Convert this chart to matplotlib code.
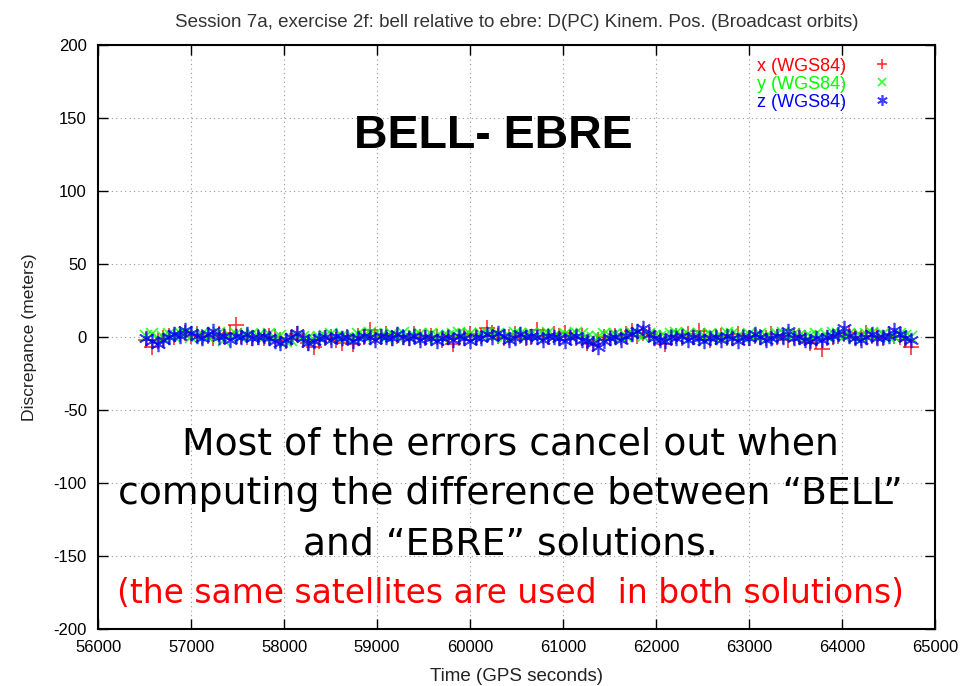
import numpy as np
import matplotlib
matplotlib.use("Agg")
import matplotlib.pyplot as plt

# epochs every 60 s over the session
t = np.arange(56520, 64790, 60)

x_wgs = [-2, -7, -3, -1, 1, 0, 2, 3, 1, 2,
         0, 1, -1, 2, 1, 3, 8, 1, 0, -1,
         0, -1, 1, 0, -2, -3, -1, 2, -2, -4,
         -7, -3, -1, 0, -2, -4, 0, -5, 1, 0,
         5, 1, 0, 2, -1, 1, 0, -1, 2, 0,
         -1, 1, 0, -2, 0, -5, -1, 1, 2, 0,
         1, 6, 3, 1, -1, 0, 2, 1, -1, 0,
         5, 1, 0, 2, 1, 3, 0, -1, 1, -4,
         -5, -2, 0, -1, 1, 0, 2, 4, 1, 3,
         2, 0, -1, -5, 0, 1, -1, 2, 0, 4,
         1, -2, 0, 1, -1, 0, 2, 0, -1, 1,
         0, -1, 2, 0, 1, -2, 0, 1, -1, -4,
         -3, -8, -1, 0, 1, 2, 3, 0, -1, 3,
         1, 0, -1, 2, 1, 0, -2, -7]

y_wgs = [1, 2, -1, 0, 2, 1, 3, 2, 0, 1,
         2, 0, 1, 3, -2, 1, 2, 0, 1, 2,
         1, 0, 2, -1, 1, -3, -2, 1, 0, -1,
         -2, 0, 1, 2, 0, 1, -1, 0, 2, 1,
         3, 2, 1, 0, 2, 1, 3, 0, 1, 2,
         0, 2, 1, 0, 1, 2, 3, 1, 2, 0,
         2, 3, 1, 2, 0, 1, 3, 2, 1, 2,
         1, 2, 3, 1, 0, 2, 1, 3, 2, 0,
         -1, 0, 2, 1, 2, 0, 1, 3, 2, 1,
         2, 1, 0, 1, 2, 3, 1, 2, 0, 2,
         1, 2, 0, 1, 3, 2, 1, 0, 2, 1,
         2, 1, 0, 2, 3, 1, 2, 1, 0, 1,
         2, 0, 1, 3, 2, 1, 2, 0, 1, 2,
         3, 1, 2, 0, 1, 2, 1, 0]

z_wgs = [-1, -3, -5, -2, 0, 2, 1, 5, 3, 1,
         -1, 2, 4, 0, 1, -2, 1, 0, 2, -1,
         0, 1, -1, -3, -4, -2, 0, 3, -1, -4,
         -3, -1, 0, -2, 1, -1, 0, -3, -1, 1,
         0, -2, 1, 0, -1, 2, 0, -1, 1, -2,
         0, -1, -3, -1, 0, -2, 1, -1, -3, 0,
         -1, 2, 0, 3, 1, -2, -1, 2, 0, 1,
         0, -2, 1, 0, -1, -3, 0, 1, -2, -3,
         -4, -7, -3, -1, 0, -2, 1, 2, 4, 6,
         2, -1, -2, -3, 0, -1, 1, -2, 0, -1,
         -3, -1, 0, -2, 1, -1, -3, 0, -1, 2,
         0, -2, -1, 1, 0, 4, -1, 0, -2, -3,
         -1, -2, 0, 1, 2, 6, 1, -1, -2, 0,
         2, -1, 0, 1, 5, 2, -1, -2]

plt.rcParams['font.family'] = ['Liberation Sans', 'DejaVu Sans']
plt.rcParams['axes.unicode_minus'] = False

fig = plt.figure(figsize=(9.6, 6.86), dpi=100)
ax = fig.add_axes([0.1021, 0.0831, 0.8719, 0.8513])

ax.plot(t, x_wgs, ls='none', marker='+', ms=11, mew=1.2, color='#ff0000', alpha=0.8,
        label='x (WGS84)')
ax.plot(t, y_wgs, ls='none', marker='x', ms=8, mew=1.2, color='#00ff00', alpha=0.8,
        label='y (WGS84)')
ax.plot(t, z_wgs, ls='none', marker=(6, 2, 0), ms=11, mew=1.2, color='#0000ff', alpha=0.75,
        label='z (WGS84)')

ax.set_xlim(56000, 65000)
ax.set_ylim(-200, 200)
ax.set_xticks(np.arange(56000, 65001, 1000))
ax.set_yticks(np.arange(-200, 201, 50))
ax.grid(True, ls=(0, (1, 3)), color='#999999', lw=0.8)
ax.tick_params(direction='in', top=True, right=True, length=7, width=1,
               labelsize=12, pad=8)
for s in ax.spines.values():
    s.set_linewidth(1.5)

ax.set_title('Session 7a, exercise 2f: bell relative to ebre: D(PC) Kinem. Pos. (Broadcast orbits)',
             fontsize=13.5, pad=13, color='#333333')
ax.set_xlabel('Time (GPS seconds)', fontsize=13.5, labelpad=9, color='#222222')
ax.set_ylabel('Discrepance (meters)', fontsize=12.6, labelpad=12, color='#222222')

ax.legend(loc='upper right', bbox_to_anchor=(0.9666, 1.006), frameon=False,
          markerfirst=False, handlelength=1.0, handletextpad=1.45, markerscale=0.7,
          labelspacing=0.05, fontsize=13, labelcolor='markeredgecolor')

fig.text(0.5135, 0.802, 'BELL- EBRE', fontsize=33.5, fontweight='bold',
         ha='center', va='center')
notes = ['Most of the errors cancel out when',
         'computing the difference between \u201cBELL\u201d',
         'and \u201cEBRE\u201d solutions.']
for k, line in enumerate(notes):
    fig.text(0.532, 0.352 - 0.0727 * k, line, fontsize=27.2, family='DejaVu Sans',
             ha='center', va='center')
fig.text(0.532, 0.135, '(the same satellites are used  in both solutions)', fontsize=23.7,
         family='DejaVu Sans', ha='center', va='center', color='#ff0000')

fig.savefig('out.png', dpi=100)
